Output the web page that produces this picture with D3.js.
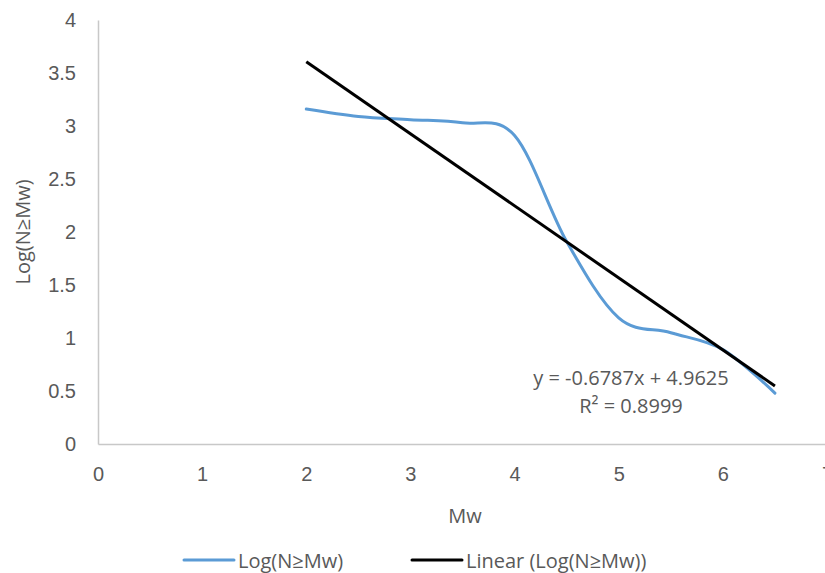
<!DOCTYPE html>
<html>
<head>
<meta charset="utf-8">
<script src="https://cdn.jsdelivr.net/npm/d3@7"></script>
<style>
  body { margin: 0; background: #fff; }
  svg { display: block; font-family: "Open Sans", sans-serif; }
</style>
</head>
<body>
<div id="chart"></div>
<script>
// chart size
const width = 825;
const height = 573;

// data
const mwValues = [2, 2.5, 3, 3.5, 4, 4.5, 5, 5.5, 6, 6.5];
const logN = [3.16, 3.09, 3.06, 3.03, 2.91, 1.91, 1.19, 1.05, 0.89, 0.48];
const xTicks = [0, 1, 2, 3, 4, 5, 6, 7];
const yTicks = [0, 0.5, 1, 1.5, 2, 2.5, 3, 3.5, 4];
const seriesNames = ["Log(N\u2265Mw)", "Linear (Log(N\u2265Mw))"];
const trendText = ["y = -0.6787x + 4.9625", "R\u00b2 = 0.8999"];

const margin = {top: 20, right: -2, bottom: 129, left: 98};
const fontSize = "20px";

const svg = d3.select("#chart").append("svg")
    .attr("width", width)
    .attr("height", height);

const x = d3.scaleLinear().domain([0, 7]).range([margin.left, width - margin.right]);
const y = d3.scaleLinear().domain([0, 4]).range([height - margin.bottom, margin.top]);

// axes, Excel style: just a line and labels
const xAxis = svg.append("g")
    .attr("transform", `translate(0,${y(0)})`)
    .call(d3.axisBottom(x).tickValues(xTicks).tickSize(0).tickPadding(23).tickFormat(d3.format("d")));
const yAxis = svg.append("g")
    .attr("transform", `translate(${x(0)},0)`)
    .call(d3.axisLeft(y).tickValues(yTicks).tickSize(0).tickPadding(22).tickFormat(d => d));

[xAxis, yAxis].forEach(g => {
    g.select(".domain").attr("stroke", "#c8c8c8").attr("stroke-width", 1.5);
    g.selectAll("text").attr("fill", "#595959").style("font-size", fontSize);
});

// axis titles
svg.append("text")
    .attr("x", 465).attr("y", 515)
    .attr("text-anchor", "middle").attr("dominant-baseline", "central")
    .attr("fill", "#595959").style("font-size", fontSize)
    .text("Mw");
svg.append("text")
    .attr("transform", `translate(22,${(y(0) + y(4)) / 2}) rotate(-90)`)
    .attr("text-anchor", "middle").attr("dominant-baseline", "central")
    .attr("fill", "#595959").style("font-size", fontSize)
    .text(seriesNames[0]);

// least squares trend line
const mx = d3.mean(mwValues), my = d3.mean(logN);
const slope = d3.sum(mwValues, (v, i) => (v - mx) * (logN[i] - my)) / d3.sum(mwValues, v => (v - mx) ** 2);
const intercept = my - slope * mx;
const xMin = d3.min(mwValues), xMax = d3.max(mwValues);

const points = mwValues.map((v, i) => [v, logN[i]]);

// smoothed data line (Excel smoothing ~ catmull-rom)
svg.append("path")
    .datum(points)
    .attr("fill", "none")
    .attr("stroke", "#5b9bd5")
    .attr("stroke-width", 3)
    .attr("stroke-linecap", "round")
    .attr("d", d3.line().x(d => x(d[0])).y(d => y(d[1])).curve(d3.curveCardinal.tension(0)));

svg.append("path")
    .datum([[xMin, slope * xMin + intercept], [xMax, slope * xMax + intercept]])
    .attr("fill", "none")
    .attr("stroke", "#000")
    .attr("stroke-width", 3)
    .attr("d", d3.line().x(d => x(d[0])).y(d => y(d[1])));

// equation label
svg.append("g").selectAll("text")
    .data(trendText)
    .enter()
    .append("text")
    .attr("x", 631)
    .attr("y", (d, i) => 377 + i * 28)
    .attr("text-anchor", "middle").attr("dominant-baseline", "central")
    .attr("fill", "#595959").style("font-size", fontSize)
    .text(d => d);

// legend
const legendItems = [
    {name: seriesNames[0], color: "#5b9bd5", x0: 184},
    {name: seriesNames[1], color: "#000", x0: 412}
];
const legend = svg.append("g").selectAll("g")
    .data(legendItems)
    .enter()
    .append("g")
    .attr("transform", d => `translate(${d.x0},560)`);
legend.append("line")
    .attr("x1", 0).attr("x2", 50)
    .attr("stroke", d => d.color)
    .attr("stroke-width", 3)
    .attr("stroke-linecap", "round");
legend.append("text")
    .attr("x", 54)
    .attr("dominant-baseline", "central")
    .attr("fill", "#595959").style("font-size", fontSize)
    .text(d => d.name);
</script>
</body>
</html>
